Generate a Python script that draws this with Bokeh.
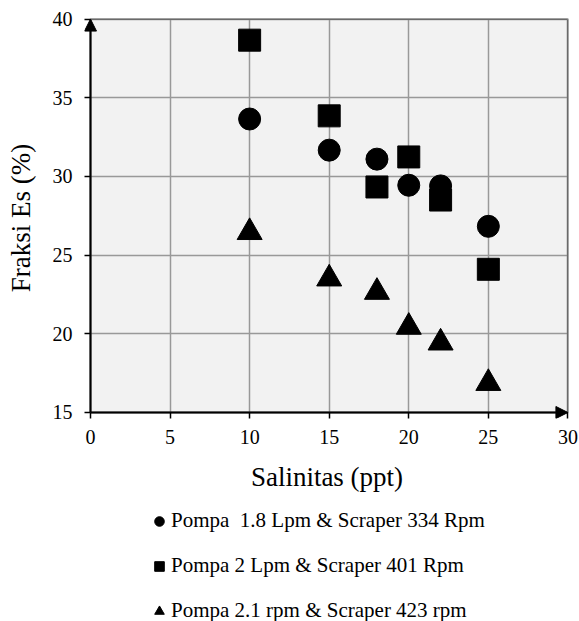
from bokeh.plotting import figure
from bokeh.layouts import column
from bokeh.models import (Range1d, FixedTicker, Arrow, NormalHead, Legend, LegendItem,
                          BoxAnnotation)
from bokeh.embed import file_html
from bokeh.resources import INLINE

salinity = [10, 15, 18, 20, 22, 25]
pompa_18 = [33.65, 31.67, 31.1, 29.44, 29.4, 26.83]
pompa_2 = [38.66, 33.85, 29.33, 31.24, 28.5, 24.1]
pompa_21 = [26.45, 23.5, 22.65, 20.43, 19.43, 16.86]
labels = ["Pompa  1.8 Lpm & Scraper 334 Rpm",
          "Pompa 2 Lpm & Scraper 401 Rpm",
          "Pompa 2.1 rpm & Scraper 423 rpm"]
x_ticks = [0, 5, 10, 15, 20, 25, 30]
y_ticks = [15, 20, 25, 30, 35, 40]
X_MIN, X_MAX = 0, 30
Y_MIN, Y_MAX = 15, 40

FONT = "Liberation Serif"

# frame slightly larger than the data area so that the arrowheads are not clipped
p = figure(width=579, height=500, output_backend="svg", toolbar_location=None,
           x_range=Range1d(X_MIN - 0.377, X_MAX + 0.1), y_range=Range1d(Y_MIN - 0.382, Y_MAX + 0.1),
           min_border_left=84, min_border_right=10, min_border_top=17, min_border_bottom=82)
p.border_fill_color = "white"
p.background_fill_color = "white"
p.outline_line_color = None

p.add_layout(BoxAnnotation(left=X_MIN, right=X_MAX, bottom=Y_MIN, top=Y_MAX,
                           fill_color="#f2f2f2", fill_alpha=1, line_color=None, level="image"))
p.add_layout(BoxAnnotation(left=X_MIN, right=X_MAX, bottom=Y_MIN, top=Y_MAX,
                           fill_color=None, line_color="black", line_width=2, level="overlay"))

for ax in (p.xaxis[0], p.yaxis[0]):
    ax.axis_line_color = None
    ax.major_tick_line_color = "black"
    ax.major_tick_line_width = 1.5
    ax.major_tick_out = 0
    ax.major_tick_in = 6
    ax.minor_tick_line_color = None
    ax.major_label_text_font = FONT
    ax.major_label_text_font_size = "20px"
    ax.major_label_text_color = "black"
    ax.axis_label_text_font = FONT
    ax.axis_label_text_font_size = "27px"
    ax.axis_label_text_font_style = "normal"
    ax.axis_label_text_color = "black"

p.xaxis.ticker = FixedTicker(ticks=x_ticks)
p.yaxis.ticker = FixedTicker(ticks=y_ticks)
p.xaxis.axis_label = "Salinitas (ppt)"
p.yaxis.axis_label = "Fraksi Es (%)"
p.xaxis.major_label_standoff = 11
p.yaxis.major_label_standoff = 12
p.xaxis.axis_label_standoff = 15
p.yaxis.axis_label_standoff = 14

p.grid.grid_line_color = "#999999"
p.grid.grid_line_width = 1.5
try:
    p.xgrid.cross_bounds = (Y_MIN, Y_MAX)
    p.ygrid.cross_bounds = (X_MIN, X_MAX)
except Exception:
    pass

r1 = p.scatter(salinity, pompa_18, marker="circle", size=22, color="black")
r2 = p.scatter(salinity, pompa_2, marker="square", size=22, color="black")
r3 = p.scatter(salinity, pompa_21, marker="triangle", size=25, color="black")

p.add_layout(Arrow(end=NormalHead(size=12, fill_color="black", line_color="black"),
                   x_start=X_MIN, y_start=Y_MIN, x_end=X_MIN, y_end=Y_MAX,
                   line_width=2, line_color="black"))
p.add_layout(Arrow(end=NormalHead(size=12, fill_color="black", line_color="black"),
                   x_start=X_MIN, y_start=Y_MIN, x_end=X_MAX, y_end=Y_MIN,
                   line_width=2, line_color="black"))

# legend figure (same series, drawn out of view so only the legend shows)
lp = figure(width=579, height=121, output_backend="svg", toolbar_location=None,
            x_range=Range1d(100, 101), y_range=Range1d(100, 101),
            x_axis_location=None, y_axis_location=None,
            min_border_left=0, min_border_right=0, min_border_top=0, min_border_bottom=0)
lp.outline_line_color = None
lp.grid.visible = False
lp.background_fill_color = "white"
l1 = lp.scatter(salinity, pompa_18, marker="circle", size=22, color="black")
l2 = lp.scatter(salinity, pompa_2, marker="square", size=22, color="black")
l3 = lp.scatter(salinity, pompa_21, marker="triangle", size=25, color="black")

legend = Legend(items=[LegendItem(label=labels[0], renderers=[l1]),
                       LegendItem(label=labels[1], renderers=[l2]),
                       LegendItem(label=labels[2], renderers=[l3])],
                orientation="vertical", location=(63, -2))
legend.label_text_font = FONT
legend.label_text_font_size = "21px"
legend.label_text_color = "black"
legend.glyph_width = 24
legend.glyph_height = 24
legend.label_height = 24
legend.spacing = 20
legend.label_standoff = 0
legend.padding = 0
legend.margin = 0
legend.border_line_color = None
legend.background_fill_alpha = 0
lp.add_layout(legend, "center")

layout = column(p, lp, spacing=0)
open("out.html", "w").write(file_html(layout, INLINE))
